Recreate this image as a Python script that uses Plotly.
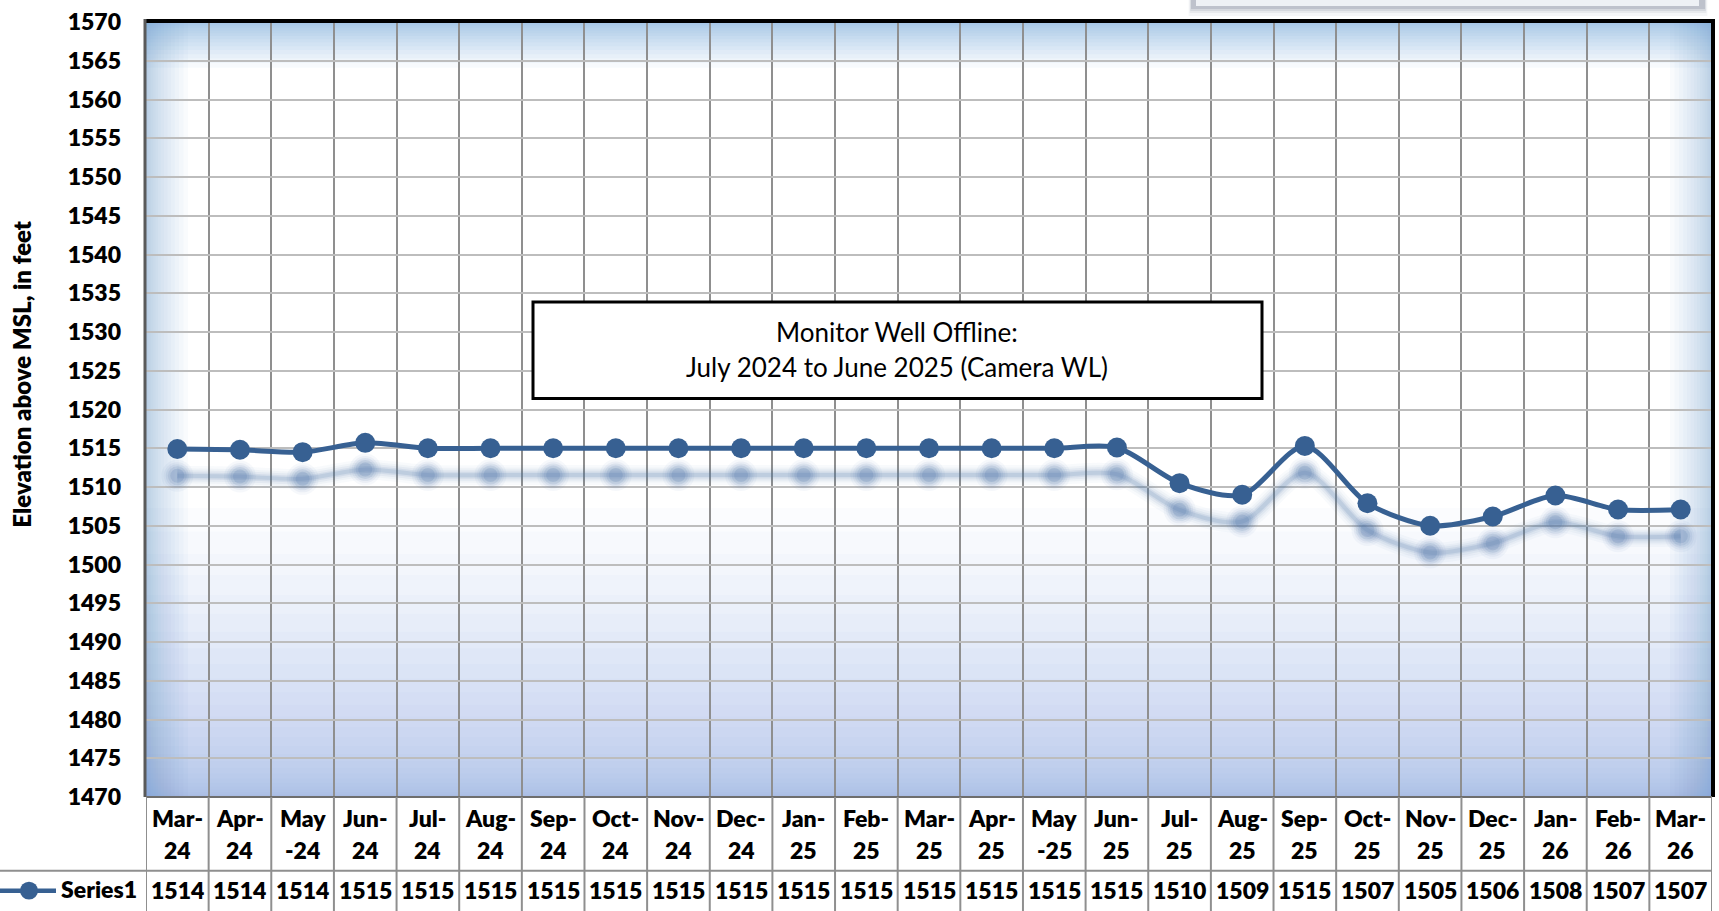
import plotly.graph_objects as go

# ---------------- data ----------------
categories = ["Mar-24", "Apr-24", "May-24", "Jun-24", "Jul-24", "Aug-24", "Sep-24",
              "Oct-24", "Nov-24", "Dec-24", "Jan-25", "Feb-25", "Mar-25", "Apr-25",
              "May-25", "Jun-25", "Jul-25", "Aug-25", "Sep-25", "Oct-25", "Nov-25",
              "Dec-25", "Jan-26", "Feb-26", "Mar-26"]
label_line1 = ["Mar-", "Apr-", "May", "Jun-", "Jul-", "Aug-", "Sep-", "Oct-", "Nov-",
               "Dec-", "Jan-", "Feb-", "Mar-", "Apr-", "May", "Jun-", "Jul-", "Aug-",
               "Sep-", "Oct-", "Nov-", "Dec-", "Jan-", "Feb-", "Mar-"]
label_line2 = ["24", "24", "-24", "24", "24", "24", "24", "24", "24", "24", "25", "25",
               "25", "25", "-25", "25", "25", "25", "25", "25", "25", "25", "26", "26", "26"]
elevation = [1514.9, 1514.8, 1514.5, 1515.7, 1515.0, 1515.0, 1515.0, 1515.0, 1515.0,
             1515.0, 1515.0, 1515.0, 1515.0, 1515.0, 1515.0, 1515.1, 1510.5, 1509.0,
             1515.3, 1507.9, 1505.0, 1506.2, 1508.9, 1507.1, 1507.1]
table_values = ["1514", "1514", "1514", "1515", "1515", "1515", "1515", "1515", "1515",
                "1515", "1515", "1515", "1515", "1515", "1515", "1515", "1510", "1509",
                "1515", "1507", "1505", "1506", "1508", "1507", "1507"]
series_name = "Series1"
y_title = "Elevation above MSL, in feet"
note_lines = ["Monitor Well Offline:", "July 2024 to June 2025 (Camera WL)"]
y_min, y_max, y_step = 1470, 1570, 5

# ---------------- geometry / style ----------------
W, H = 1719, 911
L, R, T, B = 146, 1712, 19, 797
FONT = "Lato"
BOLD = 800
LINE_COLOR = "#376092"
TXT = dict(family=FONT, size=23, color="black", weight=BOLD)
n = len(categories)
xs = list(range(n))


def px(xp):
    return (xp - L) / (R - L)


def py(yp):
    return (B - yp) / (B - T)


shapes = []
annotations = []


def band(edge, depth, steps, rgb, alpha_total, power):
    a = 1 - (1 - alpha_total) ** (1.0 / steps)
    for k in range(1, steps + 1):
        d = depth * (k / steps) ** power
        if edge == "top":
            x0, x1, y0, y1 = 0, 1, 1, py(T + d)
        elif edge == "bottom":
            x0, x1, y0, y1 = 0, 1, 0, py(B - d)
        elif edge == "left":
            x0, x1, y0, y1 = 0, px(L + d), 0, 1
        else:
            x0, x1, y0, y1 = px(R - d), 1, 0, 1
        shapes.append(dict(type="rect", xref="paper", yref="paper", x0=x0, x1=x1,
                           y0=y0, y1=y1, line=dict(width=0), layer="below",
                           fillcolor="rgba(%d,%d,%d,%.4f)" % (rgb + (a,))))


blue = (105, 155, 218)
band("top", 46, 16, blue, 0.58, 1.7)
band("left", 42, 16, blue, 0.5, 1.8)
band("right", 42, 16, blue, 0.5, 1.8)
band("bottom", 290, 30, blue, 0.58, 2.5)

# plot-area border
shapes += [
    dict(type="line", xref="paper", yref="paper", x0=px(L - 2), x1=px(R + 2), y0=py(T - 1), y1=py(T - 1),
         line=dict(color="black", width=4), layer="above"),
    dict(type="line", xref="paper", yref="paper", x0=px(R + 1), x1=px(R + 1), y0=py(T - 3), y1=py(B),
         line=dict(color="black", width=4), layer="above"),
    dict(type="line", xref="paper", yref="paper", x0=px(L - 1), x1=px(L - 1), y0=py(T - 3), y1=py(B),
         line=dict(color="#5a5a5a", width=3), layer="above"),
    dict(type="line", xref="paper", yref="paper", x0=px(L), x1=px(R), y0=py(B), y1=py(B),
         line=dict(color="#6e6e6e", width=2), layer="above"),
]

# data table grid
for i in range(n + 1):
    shapes.append(dict(type="line", xref="x", yref="paper", x0=i - 0.5, x1=i - 0.5,
                       y0=py(B), y1=py(H + 5), line=dict(color="#8f8f8f", width=2)))
shapes.append(dict(type="line", xref="paper", yref="paper", x0=px(0), x1=px(R),
                   y0=py(871), y1=py(871), line=dict(color="#8f8f8f", width=2)))

# legend key in the table
shapes.append(dict(type="line", xref="paper", yref="paper", x0=px(0), x1=px(56),
                   y0=py(891), y1=py(891), line=dict(color=LINE_COLOR, width=4.5)))
shapes.append(dict(type="circle", xref="paper", yref="paper", x0=px(20), x1=px(38),
                   y0=py(900), y1=py(882), line=dict(width=0), fillcolor=LINE_COLOR))
annotations.append(dict(text=series_name, xref="paper", yref="paper", x=px(59), y=py(889),
                        xanchor="left", yanchor="middle", showarrow=False, font=TXT))

# top-right partially visible box with shadow
for dy, col in [(13, "rgba(120,130,150,0.07)"), (10, "rgba(120,130,150,0.11)"),
                (8, "rgba(120,130,150,0.16)"), (6, "rgba(110,120,140,0.22)")]:
    shapes.append(dict(type="rect", xref="paper", yref="paper", x0=px(1193 - dy / 3), x1=px(1703 + dy / 3),
                       y0=py(-10), y1=py(dy), line=dict(width=0), fillcolor=col))
shapes.append(dict(type="rect", xref="paper", yref="paper", x0=px(1196), x1=px(1699),
                   y0=py(-10), y1=py(3), line=dict(width=0), fillcolor="#eef1f5"))

# table text
for i in xs:
    annotations.append(dict(text=label_line1[i], xref="x", yref="paper", x=i, y=py(818),
                            xanchor="center", yanchor="middle", showarrow=False, font=TXT))
    annotations.append(dict(text=label_line2[i], xref="x", yref="paper", x=i, y=py(850),
                            xanchor="center", yanchor="middle", showarrow=False, font=TXT))
    annotations.append(dict(text=table_values[i], xref="x", yref="paper", x=i, y=py(890),
                            xanchor="center", yanchor="middle", showarrow=False, font=TXT))

# y-axis title
annotations.append(dict(text=y_title, xref="paper", yref="paper", x=px(22), y=py(373),
                        xanchor="center", yanchor="middle", textangle=-90, showarrow=False,
                        font=dict(family=FONT, size=24, color="black", weight=BOLD)))

# note box
shapes.append(dict(type="rect", xref="paper", yref="paper", x0=px(533), x1=px(1262),
                   y0=py(397), y1=py(300), line=dict(color="black", width=3),
                   fillcolor="white", layer="above"))
annotations.append(dict(text=note_lines[0], xref="paper", yref="paper", x=px(897), y=py(330),
                        xanchor="center", yanchor="middle", showarrow=False,
                        font=dict(family=FONT, size=26, color="black")))
annotations.append(dict(text=note_lines[1], xref="paper", yref="paper", x=px(897), y=py(365),
                        xanchor="center", yanchor="middle", showarrow=False,
                        font=dict(family=FONT, size=26, color="black")))

fig = go.Figure()

# blurred drop shadow (drawn on an offset overlay axis)
shadow_axis_shift = 3.45
for w, m, a in [(20, 32, 0.035), (15, 27, 0.05), (11, 23, 0.07), (7, 19, 0.1), (4, 14, 0.14)]:
    fig.add_trace(go.Scatter(x=xs, y=elevation, yaxis="y2", mode="lines+markers",
                             line=dict(color="rgba(70,110,165,%.3f)" % a, width=w, shape="spline", smoothing=0.8),
                             marker=dict(size=m, color="rgba(70,110,165,%.3f)" % (a * 1.3)),
                             hoverinfo="skip", showlegend=False))

fig.add_trace(go.Scatter(x=xs, y=elevation, mode="lines+markers", name=series_name,
                         line=dict(color=LINE_COLOR, width=5, shape="spline", smoothing=0.8),
                         marker=dict(size=20, color=LINE_COLOR), showlegend=False))

fig.update_layout(
    width=W, height=H, autosize=False,
    margin=dict(l=L, r=W - R, t=T, b=H - B, pad=0),
    paper_bgcolor="white", plot_bgcolor="white",
    font=dict(family=FONT, color="black"),
    xaxis=dict(range=[-0.5, n - 0.5], tickmode="array", tickvals=[i - 0.5 for i in range(n + 1)],
               showticklabels=False, showgrid=True, gridcolor="#8f8f8f", gridwidth=2,
               zeroline=False, showline=False, ticks=""),
    yaxis=dict(range=[y_min, y_max], tickmode="linear", tick0=y_min, dtick=y_step,
               showgrid=True, gridcolor="#bdbdbd", gridwidth=2, zeroline=False, showline=False,
               ticks="", ticklabelstandoff=24,
               tickfont=dict(family=FONT, size=23, color="black", weight=BOLD)),
    yaxis2=dict(range=[y_min + shadow_axis_shift, y_max + shadow_axis_shift], overlaying="y",
                visible=False),
    shapes=shapes, annotations=annotations,
)

fig.write_html("out.html", config={"displayModeBar": False},
               post_script="document.body.style.margin='0';document.body.style.overflow='hidden';")
